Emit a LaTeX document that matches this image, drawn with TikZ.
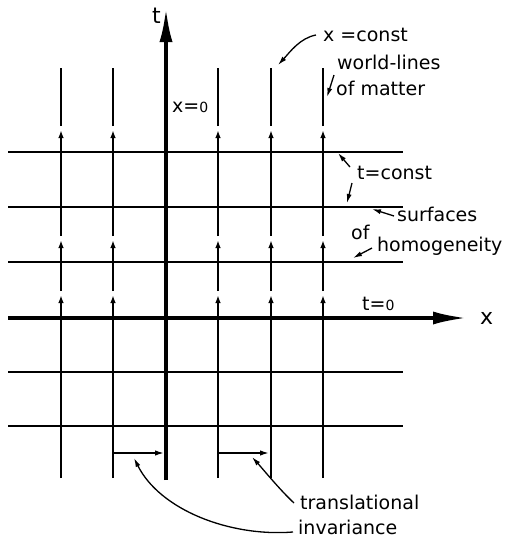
\documentclass[tikz,border=0pt]{standalone}
\usepackage{fontspec}
\setmainfont{DejaVu Sans}
\usetikzlibrary{arrows.meta}
\begin{document}
\begin{tikzpicture}[x=1pt,y=-1pt,
  axis/.style={line width=3.6pt,-{Latex[length=34pt,width=13pt]}},
  wline/.style={line width=1.6pt},
  wseg/.style={line width=1.6pt,-{Latex[length=8pt,width=5.5pt]}},
  hline/.style={line width=1.1pt},
  leader/.style={line width=1.3pt,-{Latex[length=9pt,width=5pt]}},
  transarrow/.style={line width=1.6pt,-{Latex[length=9pt,width=5.5pt]}},
  lab/.style={anchor=base west,inner sep=0pt,font=\fontsize{19}{22}\selectfont},
  axlab/.style={anchor=base west,inner sep=0pt,font=\fontsize{22}{24}\selectfont}
]
\useasboundingbox (0,0) rectangle (514,542);
% horizontal surfaces t=const
\foreach \y in {152,207,262,372,426}{
  \draw[hline] (8,\y) -- (403,\y);
}
% world-lines
\foreach \x in {61,113,218,271,323}{
  \draw[wseg] (\x,478) -- (\x,295);
  \draw[wseg] (\x,291) -- (\x,240);
  \draw[wseg] (\x,236) -- (\x,130);
  \draw[wline] (\x,126) -- (\x,68);
}
% axes
\coordinate (xo) at (8,318);
\coordinate (xe) at (467,318);
\coordinate (to) at (166,480);
\coordinate (te) at (166,8);
\draw[axis] (xo) -- (xe);
\draw[axis] (to) -- (te);
\node[axlab] (tl) at (152,23) {t};
\node[axlab] (xl) at (480,324) {x};
\node[lab] (x0) at (172,112) {x={\fontsize{14}{16}\selectfont 0}};
\node[lab] (t0) at (362,310) {t={\fontsize{14}{16}\selectfont 0}};
% labels
\node[lab] (xc) at (323,41) {x =const};
\node[lab] (wl) at (337,69) {world-lines};
\node[lab] (om) at (336,95) {of matter};
\node[lab] (tc) at (357,179) {t=const};
\node[lab] (sf) at (397,221) {surfaces};
\node[lab] (of) at (351,239) {of};
\node[lab] (hg) at (377,251) {homogeneity};
\node[lab] (tr) at (300,509) {translational};
\node[lab] (inv) at (298,534) {invariance};
% leader targets
\coordinate (xcT) at (278,65);
\coordinate (omT) at (327,97);
\coordinate (tcT1) at (338,153);
\coordinate (tcT2) at (347,203);
\coordinate (sfT) at (372,209);
\coordinate (hgT) at (353,258);
\coordinate (trT) at (252,457);
\coordinate (invT) at (134,458);
% leaders
\draw[leader] (316,35) .. controls (300,38) and (290,52) .. (xcT);
\draw[leader] (334,75) -- (omT);
\draw[leader] (350,167) -- (tcT1);
\draw[leader] (352,183) -- (tcT2);
\draw[leader] (394,216) -- (sfT);
\draw[leader] (372,248) -- (hgT);
\draw[leader] (294,503) .. controls (280,490) and (262,468) .. (trT);
\draw[leader] (293,532) .. controls (230,537) and (160,510) .. (invT);
% translational shifts
\coordinate (s1a) at (113,453);
\coordinate (s1b) at (164,453);
\coordinate (s2a) at (218,453);
\coordinate (s2b) at (269,453);
\draw[transarrow] (s1a) -- (s1b);
\draw[transarrow] (s2a) -- (s2b);
\end{tikzpicture}
\end{document}
